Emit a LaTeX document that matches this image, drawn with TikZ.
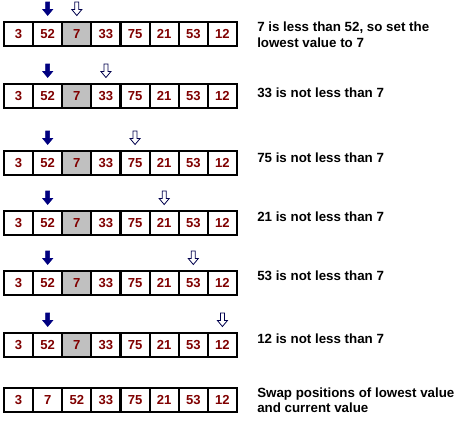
\documentclass[tikz,border=0pt]{standalone}
\usepackage{fontspec}
\setmainfont{Liberation Sans}
\definecolor{numred}{HTML}{800000}
\definecolor{navyblue}{HTML}{000080}
\definecolor{cellgray}{HTML}{C0C0C0}
\begin{document}
\begin{tikzpicture}[x=0.75pt,y=-0.75pt,
  cell/.style={draw=black, line width=1.5pt, minimum width=21.84pt, minimum height=18pt,
    inner sep=0pt, font=\fontsize{9.8}{11}\selectfont\bfseries, text=numred},
  desc/.style={anchor=west, align=left, inner sep=0pt,
    font=\fontsize{10}{11.6}\selectfont\bfseries, text=black},
  solidarr/.style={fill=navyblue, draw=navyblue, line width=0.4pt},
  hollowarr/.style={fill=white, draw=navyblue!60!black, line width=0.6pt},
  darr/.pic={\path[pic actions] (-2,0) -- (2,0) -- (2,7.5) -- (5,7.5) -- (0,13.5) -- (-5,7.5) -- (-2,7.5) -- cycle;}
]
\useasboundingbox[fill=white] (0,0) rectangle (460,422);
\foreach \r/\yc/\h in {1/34/3, 2/96/4, 3/163/5, 4/223/6, 5/283/7, 6/345/8}{
  \foreach \v [count=\i] in {3,52,7,33,75,21,53,12}{
    \ifnum\i=3 \def\fillc{cellgray}\else\def\fillc{white}\fi
    \node[cell, fill=\fillc] (r\r c\i) at ({4+29.125*(\i-0.5)},\yc) {\v};
  }
  \pic[solidarr] at ({4+29.125*1.5},{\yc-32}) {darr};
  \pic[hollowarr] at ({4+29.125*(\h-0.5)},{\yc-32}) {darr};
}
\foreach \v [count=\i] in {3,7,52,33,75,21,53,12}{
  \node[cell, fill=white] (r7c\i) at ({4+29.125*(\i-0.5)},400) {\v};
}
\node[desc] (t1) at (257,34.5) {7 is less than 52, so set the\\lowest value to 7};
\node[desc] (t2) at (257,93) {33 is not less than 7};
\node[desc] (t3) at (257,158) {75 is not less than 7};
\node[desc] (t4) at (257,217) {21 is not less than 7};
\node[desc] (t5) at (257,276) {53 is not less than 7};
\node[desc] (t6) at (257,339) {12 is not less than 7};
\node[desc] (t7) at (257,400) {Swap positions of lowest value\\and current value};
\end{tikzpicture}
\end{document}
